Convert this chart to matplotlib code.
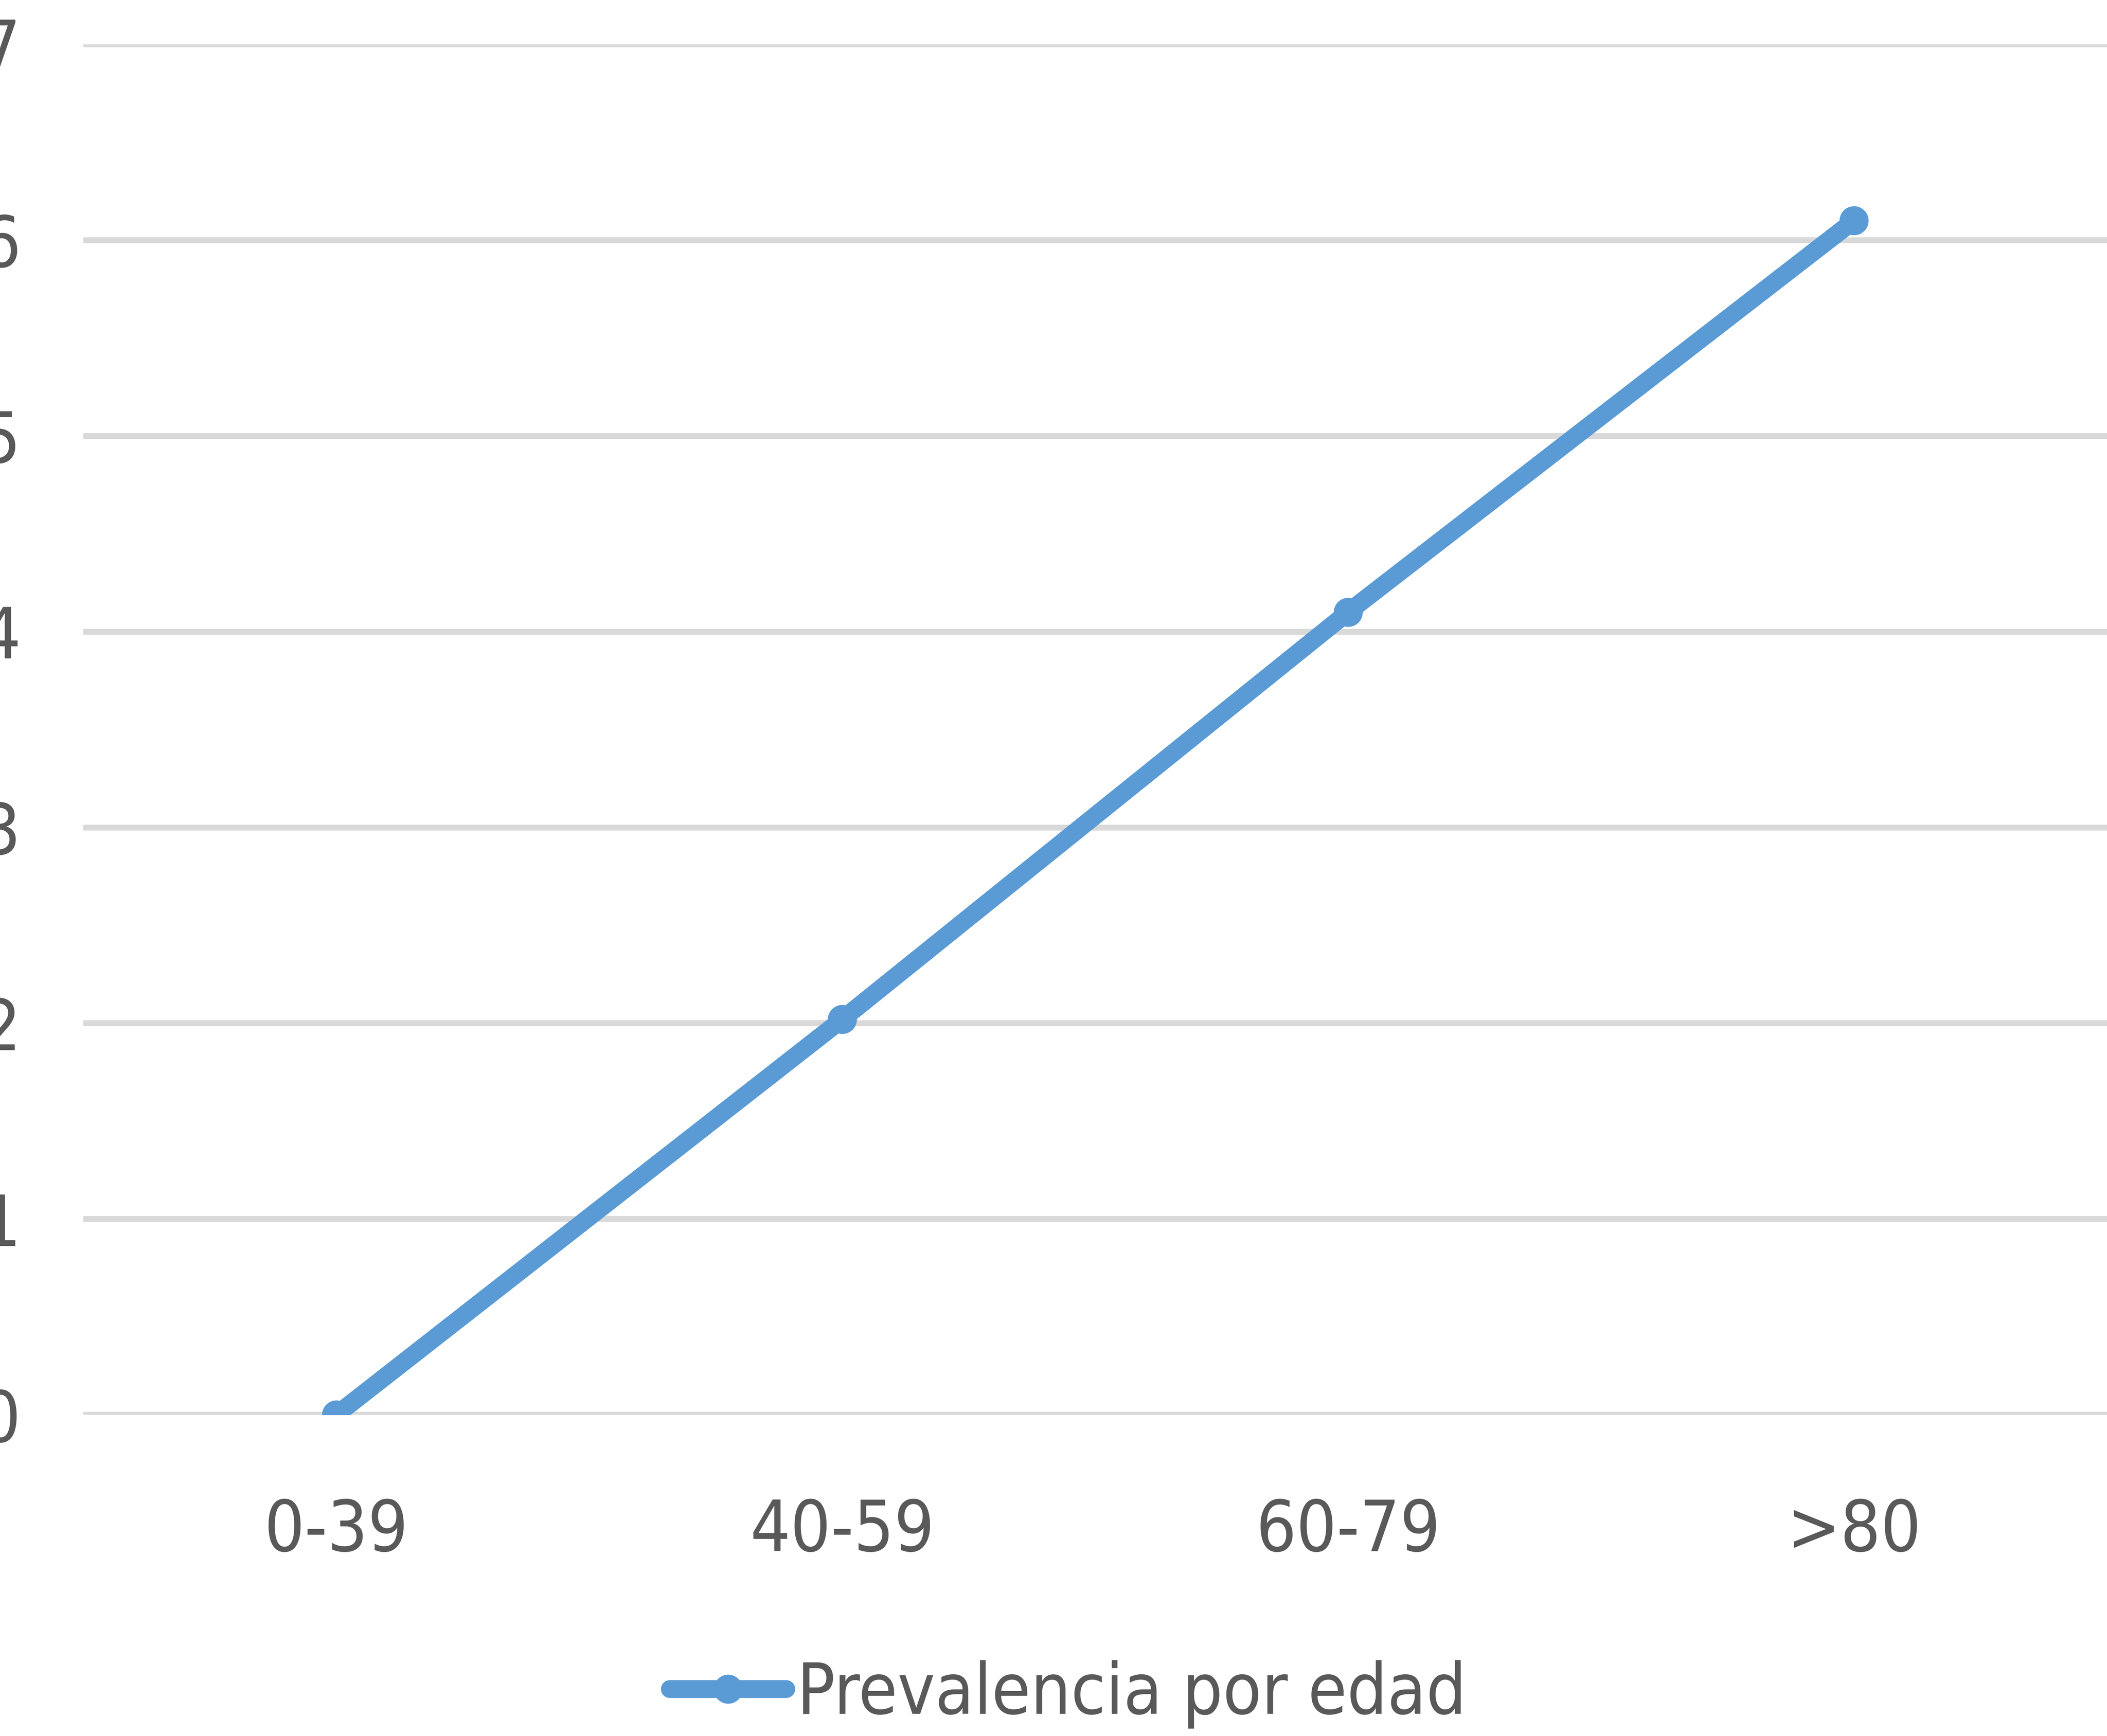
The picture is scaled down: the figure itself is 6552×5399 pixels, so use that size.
import matplotlib
matplotlib.use("Agg")
from matplotlib import pyplot as plt

# data
age_groups = ["0-39", "40-59", "60-79", ">80"]
prevalence = [0.0, 2.02, 4.1, 6.1]
y_ticks = [0, 1, 2, 3, 4, 5, 6, 7]
series_name = "Prevalencia por edad"

LINE_COLOR = "#5B9BD5"
GRID_COLOR = "#D9D9D9"
TEXT_COLOR = "#595959"

plt.rcParams["font.family"] = ["DejaVu Sans"]
plt.rcParams["font.stretch"] = "condensed"

fig = plt.figure(figsize=(65.52, 53.99), dpi=100)
ax = fig.add_axes([62 / 1568, 1 - 1053 / 1292, 1 - 62 / 1568, (1053 - 33) / 1292])

x = list(range(len(age_groups)))
ax.plot(x, prevalence, color=LINE_COLOR, lw=40, marker="o", ms=64,
        solid_capstyle="round", label=series_name, zorder=3)

ax.set_xlim(-0.5, len(age_groups) - 0.5)
ax.set_ylim(0, 7)
ax.set_xticks(x)
ax.set_xticklabels(age_groups)
ax.set_yticks(y_ticks)
ax.set_yticklabels([str(v) for v in y_ticks])

ax.grid(axis="y", color=GRID_COLOR, lw=13, zorder=0)
ax.set_axisbelow(True)
for side in ax.spines.values():
    side.set_visible(False)
ax.tick_params(axis="both", length=0, labelsize=158, colors=TEXT_COLOR)
ax.tick_params(axis="x", pad=185)
ax.tick_params(axis="y", pad=140)

leg = fig.legend(loc="center", bbox_to_anchor=(0.507, 0.024), frameon=False,
                 fontsize=158, handlelength=1.65, handletextpad=0.15)
for t in leg.get_texts():
    t.set_color(TEXT_COLOR)

fig.savefig("out.png", dpi=100)
